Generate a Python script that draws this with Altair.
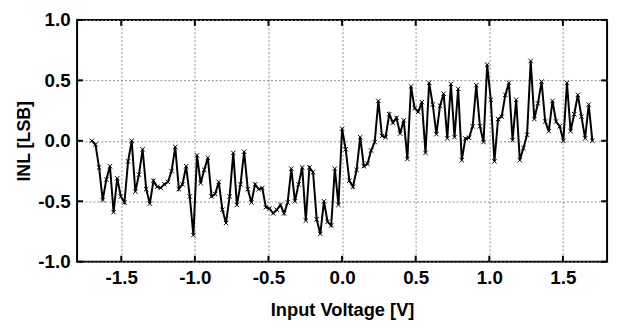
import altair as alt
import pandas as pd

# INL readings (LSB), sampled evenly from -1.7 V to +1.7 V
inl = [
    0.00, -0.03, -0.22, -0.49, -0.32, -0.21, -0.59, -0.31, -0.46, -0.51,
    -0.17, 0.00, -0.42, -0.28, -0.07, -0.40, -0.52, -0.33, -0.38, -0.39,
    -0.36, -0.34, -0.25, -0.05, -0.40, -0.36, -0.21, -0.46, -0.78, -0.12,
    -0.35, -0.24, -0.14, -0.46, -0.44, -0.34, -0.57, -0.68, -0.46, -0.10,
    -0.53, -0.36, -0.09, -0.40, -0.51, -0.36, -0.40, -0.39, -0.55, -0.56,
    -0.60, -0.57, -0.53, -0.60, -0.51, -0.23, -0.50, -0.36, -0.22, -0.66,
    -0.22, -0.26, -0.65, -0.77, -0.50, -0.67, -0.70, -0.23, -0.53, 0.10,
    -0.07, -0.33, -0.38, -0.24, 0.03, -0.21, -0.19, -0.08, -0.01, 0.33,
    0.04, 0.03, 0.22, 0.15, 0.19, 0.06, 0.17, -0.15, 0.45, 0.27,
    0.24, 0.32, -0.10, 0.48, 0.30, 0.055, 0.29, 0.39, 0.02, 0.47,
    0.03, 0.43, -0.16, 0.02, 0.025, 0.12, 0.46, 0.12, -0.01, 0.63,
    0.34, -0.17, 0.18, 0.20, 0.38, 0.48, 0.005, 0.34, -0.16, -0.06,
    0.05, 0.66, 0.18, 0.31, 0.49, 0.16, 0.08, 0.33, 0.16, 0.12,
    0.00, 0.48, 0.08, 0.22, 0.38, 0.20, 0.02, 0.30, 0.00,
]
v_start, v_end = -1.7, 1.7
n = len(inl)
volts = [round(v_start + i * (v_end - v_start) / (n - 1), 5) for i in range(n)]

x_ticks = [-1.5, -1.0, -0.5, 0.0, 0.5, 1.0, 1.5]
y_ticks = [-1.0, -0.5, 0.0, 0.5, 1.0]

W, H = 537, 245
TL = 6
FONT = "Liberation Sans"
LABEL_EXPR = "(datum.value < 0 ? '-' : '') + format(abs(datum.value), '.1f')"

df = pd.DataFrame({"v": volts, "inl": inl})
xt = pd.DataFrame({"v": x_ticks})
yt = pd.DataFrame({"inl": y_ticks})

xscale = alt.Scale(domain=[-1.8, 1.8], nice=False, zero=False)
yscale = alt.Scale(domain=[-1.0, 1.0], nice=False, zero=False)

x_axis = alt.Axis(
    values=x_ticks, labelExpr=LABEL_EXPR, title="Input Voltage [V]",
    grid=True, gridDash=[2, 2], gridColor="#8c8c8c", gridWidth=1,
    tickSize=0, domain=False, labelPadding=7,
    labelFont=FONT, labelFontSize=19, labelFontWeight="bold", labelColor="black",
    titleFont=FONT, titleFontSize=18.5, titleFontWeight="bold", titleColor="black",
    titlePadding=14,
)
y_axis = alt.Axis(
    values=y_ticks, labelExpr=LABEL_EXPR, title="INL [LSB]",
    grid=True, gridDash=[2, 2], gridColor="#8c8c8c", gridWidth=1,
    tickSize=0, domain=False, labelPadding=7,
    labelFont=FONT, labelFontSize=19, labelFontWeight="bold", labelColor="black",
    titleFont=FONT, titleFontSize=18, titleFontWeight="bold", titleColor="black",
    titlePadding=4,
)

line = alt.Chart(df).mark_line(color="black", strokeWidth=2).encode(
    x=alt.X("v:Q", scale=xscale, axis=x_axis),
    y=alt.Y("inl:Q", scale=yscale, axis=y_axis),
)
pts = alt.Chart(df).mark_point(
    shape="M-1,-1L1,1M1,-1L-1,1", filled=False, color="black",
    strokeWidth=1, size=20, opacity=1,
).encode(
    x=alt.X("v:Q", scale=xscale),
    y=alt.Y("inl:Q", scale=yscale),
)

tick_style = dict(color="black", strokeWidth=2)
xb = alt.Chart(xt).mark_rule(**tick_style).encode(
    x=alt.X("v:Q", scale=xscale), y=alt.value(H), y2=alt.value(H - TL))
xtop = alt.Chart(xt).mark_rule(**tick_style).encode(
    x=alt.X("v:Q", scale=xscale), y=alt.value(0), y2=alt.value(TL))
yl = alt.Chart(yt).mark_rule(**tick_style).encode(
    y=alt.Y("inl:Q", scale=yscale), x=alt.value(0), x2=alt.value(TL))
yr = alt.Chart(yt).mark_rule(**tick_style).encode(
    y=alt.Y("inl:Q", scale=yscale), x=alt.value(W), x2=alt.value(W - TL))

chart = alt.layer(line, pts, xb, xtop, yl, yr).properties(
    width=W, height=H,
    autosize=alt.AutoSizeParams(type="none"),
    padding={"left": 70, "top": 10, "right": 6, "bottom": 59},
    background="white",
).configure_view(stroke="black", strokeWidth=2)

chart.save("out.html", embed_options={"renderer": "svg", "actions": False})
